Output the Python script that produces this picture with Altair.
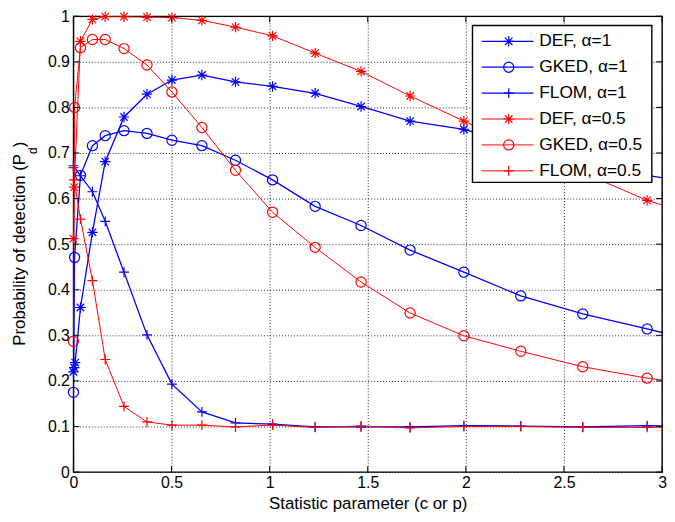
import altair as alt
import pandas as pd

# ---------------- data ----------------
X_TICKS = [0, 0.5, 1, 1.5, 2, 2.5, 3]
Y_TICKS = [0, 0.1, 0.2, 0.3, 0.4, 0.5, 0.6, 0.7, 0.8, 0.9, 1.0]

SERIES = ["DEF, α=1", "GKED, α=1", "FLOM, α=1",
          "DEF, α=0.5", "GKED, α=0.5", "FLOM, α=0.5"]
STATS = ["DEF", "GKED", "FLOM"]
COLORS = ["#0000ff", "#0000ff", "#0000ff", "#ff0000", "#ff0000", "#ff0000"]

X_MAIN = [0.036, 0.097, 0.162, 0.258, 0.375, 0.502, 0.655, 0.826, 1.015,
          1.232, 1.466, 1.716, 1.990, 2.280, 2.596, 2.924, 3.28]

DEF1_X0 = [0.0, 0.004, 0.009]
DEF1_Y0 = [0.220, 0.229, 0.240]
DEF1_Y = [0.361, 0.526, 0.681, 0.779, 0.829, 0.860, 0.871, 0.856, 0.846,
          0.831, 0.802, 0.770, 0.752, 0.717, 0.684, 0.651, 0.627]

GKED1_X0 = [0.0, 0.006]
GKED1_Y0 = [0.175, 0.471]
GKED1_Y = [0.651, 0.716, 0.738, 0.749, 0.743, 0.728, 0.716, 0.684, 0.641,
           0.583, 0.541, 0.487, 0.4385, 0.3865, 0.347, 0.314, 0.277]

FLOM1_X0 = [0.0]
FLOM1_Y0 = [0.672]
FLOM1_Y = [0.650, 0.615, 0.550, 0.4385, 0.301, 0.193, 0.132, 0.108, 0.105,
           0.099, 0.099, 0.099, 0.102, 0.101, 0.099, 0.102, 0.100]

DEF05_X0 = [0.0, 0.004]
DEF05_Y0 = [0.512, 0.625]
DEF05_Y = [0.945, 0.993, 0.999, 0.999, 0.998, 0.997, 0.991, 0.976, 0.957,
           0.919, 0.879, 0.825, 0.770, 0.714, 0.657, 0.596, 0.550]

GKED05_X0 = [0.0, 0.006]
GKED05_Y0 = [0.287, 0.800]
GKED05_Y = [0.931, 0.949, 0.949, 0.929, 0.893, 0.834, 0.756, 0.662, 0.570,
            0.493, 0.417, 0.349, 0.299, 0.265, 0.231, 0.206, 0.187]

FLOM05_X0 = [0.0, 0.004]
FLOM05_Y0 = [0.668, 0.641]
FLOM05_Y = [0.555, 0.420, 0.247, 0.144, 0.110, 0.103, 0.103, 0.099, 0.103,
            0.098, 0.101, 0.097, 0.100, 0.100, 0.098, 0.098, 0.099]

RAW = [
    (DEF1_X0, DEF1_Y0, DEF1_Y),
    (GKED1_X0, GKED1_Y0, GKED1_Y),
    (FLOM1_X0, FLOM1_Y0, FLOM1_Y),
    (DEF05_X0, DEF05_Y0, DEF05_Y),
    (GKED05_X0, GKED05_Y0, GKED05_Y),
    (FLOM05_X0, FLOM05_Y0, FLOM05_Y),
]

rows = []
for name, (x0, y0, ym) in zip(SERIES, RAW):
    stat = name.split(",")[0]
    alpha = name.split("=")[1]
    for xv, yv in zip(list(x0) + X_MAIN, list(y0) + ym):
        rows.append({"series": name, "stat": stat, "alpha": alpha, "x": xv, "y": yv})
df = pd.DataFrame(rows)

legend_df = pd.DataFrame({
    "series": SERIES,
    "stat": [s.split(",")[0] for s in SERIES],
    "alpha": [s.split("=")[1] for s in SERIES],
})

# ---------------- styling ----------------
W, H = 594, 460
FONT = "Liberation Sans"
AST = "M-1,0L1,0M0,-1L0,1M-0.72,-0.72L0.72,0.72M-0.72,0.72L0.72,-0.72"
PLUS = "M-1,0L1,0M0,-1L0,1"

xscale = alt.Scale(domain=[0, 3], nice=False, zero=False)
yscale = alt.Scale(domain=[0, 1], nice=False, zero=False)
color = alt.Color("series:N", scale=alt.Scale(domain=SERIES, range=COLORS), legend=None)
shape = alt.Shape("stat:N", scale=alt.Scale(domain=STATS, range=[AST, "circle", PLUS]), legend=None)
size = alt.Size("stat:O", scale=alt.Scale(domain=STATS, range=[110, 100, 140]), legend=None)
swidth = alt.StrokeWidth("alpha:N", scale=alt.Scale(domain=["1", "0.5"], range=[1.3, 1.0]), legend=None)

x_axis = alt.Axis(values=X_TICKS, format="~g", grid=True, ticks=False, domain=False,
                  labelFontSize=16, labelFont=FONT, labelColor="black", labelPadding=3,
                  labelFlush=False, labelOverlap=False,
                  title="Statistic parameter (c or p)", titleFontSize=17, titleFont=FONT,
                  titleFontWeight="normal", titleColor="black", titlePadding=5)
y_axis = alt.Axis(values=Y_TICKS, format="~g", grid=True, ticks=False, domain=False,
                  labelFontSize=16, labelFont=FONT, labelColor="black", labelPadding=4,
                  labelFlush=False, labelOverlap=False, title=None)

lines = alt.Chart(df).mark_line(clip=True).encode(
    x=alt.X("x:Q", scale=xscale, axis=x_axis),
    y=alt.Y("y:Q", scale=yscale, axis=y_axis),
    color=color, strokeWidth=swidth, detail="series:N",
)

points = alt.Chart(df).transform_filter(alt.datum.x <= 3).mark_point(
    filled=False, opacity=1, strokeWidth=1.2
).encode(
    x=alt.X("x:Q", scale=xscale),
    y=alt.Y("y:Q", scale=yscale, axis=None),
    color=color, shape=shape, size=size,
)

# inward tick marks on all four sides
xt = pd.DataFrame({"t": X_TICKS})
yt = pd.DataFrame({"t": Y_TICKS})
tick_b = alt.Chart(xt).mark_rule(color="black", strokeWidth=1).encode(
    x=alt.X("t:Q", scale=xscale), y=alt.value(H), y2=alt.value(H - 6))
tick_t = alt.Chart(xt).mark_rule(color="black", strokeWidth=1).encode(
    x=alt.X("t:Q", scale=xscale), y=alt.value(0), y2=alt.value(6))
tick_l = alt.Chart(yt).mark_rule(color="black", strokeWidth=1).encode(
    y=alt.Y("t:Q", scale=yscale, axis=None), x=alt.value(0), x2=alt.value(6))
tick_r = alt.Chart(yt).mark_rule(color="black", strokeWidth=1).encode(
    y=alt.Y("t:Q", scale=yscale, axis=None), x=alt.value(W), x2=alt.value(W - 6))

# legend box
one = pd.DataFrame({"a": [0]})
leg_box = alt.Chart(one).mark_rect(fill="white", stroke="black", strokeWidth=1.4).encode(
    x=alt.value(402.7), x2=alt.value(583.7), y=alt.value(9.3), y2=alt.value(167.7))
ly = alt.Y("series:N", scale=alt.Scale(type="point", domain=SERIES, range=[25.3, 156], padding=0),
           axis=None)
leg_line = alt.Chart(legend_df).mark_rule().encode(
    x=alt.value(412), x2=alt.value(464.3), y=ly, color=color, strokeWidth=swidth)
leg_pt = alt.Chart(legend_df).mark_point(filled=False, opacity=1, strokeWidth=1.2).encode(
    x=alt.value(439.3), y=ly, color=color, shape=shape, size=size)
leg_txt = alt.Chart(legend_df).mark_text(
    align="left", baseline="middle", fontSize=17.5, font=FONT, color="black"
).encode(x=alt.value(470), y=ly, text="series:N")

# y-axis title with subscript
yt_main = alt.Chart(one).mark_text(
    text="Probability of detection (P", angle=270, align="right", baseline="alphabetic",
    fontSize=17, font=FONT, color="black").encode(x=alt.value(-49), y=alt.value(139))
yt_sub = alt.Chart(one).mark_text(
    text="d", angle=270, align="left", baseline="alphabetic",
    fontSize=12, font=FONT, color="black").encode(x=alt.value(-37), y=alt.value(139))
yt_end = alt.Chart(one).mark_text(
    text=")", angle=270, align="left", baseline="alphabetic",
    fontSize=17, font=FONT, color="black").encode(x=alt.value(-49), y=alt.value(132.3))

chart = alt.layer(
    lines, points, tick_b, tick_t, tick_l, tick_r,
    leg_box, leg_line, leg_pt, leg_txt, yt_main, yt_sub, yt_end,
).resolve_scale(y="independent").properties(
    width=W, height=H,
    padding={"left": 66, "top": 6, "right": 5, "bottom": 40},
    autosize=alt.AutoSizeParams(type="none"),
).configure_view(
    stroke="black", strokeWidth=1.4
).configure_axis(
    gridColor="#000000", gridDash=[1, 2], gridOpacity=0.85, gridWidth=1
)

chart.save("out.html", embed_options={"renderer": "svg", "actions": False})
